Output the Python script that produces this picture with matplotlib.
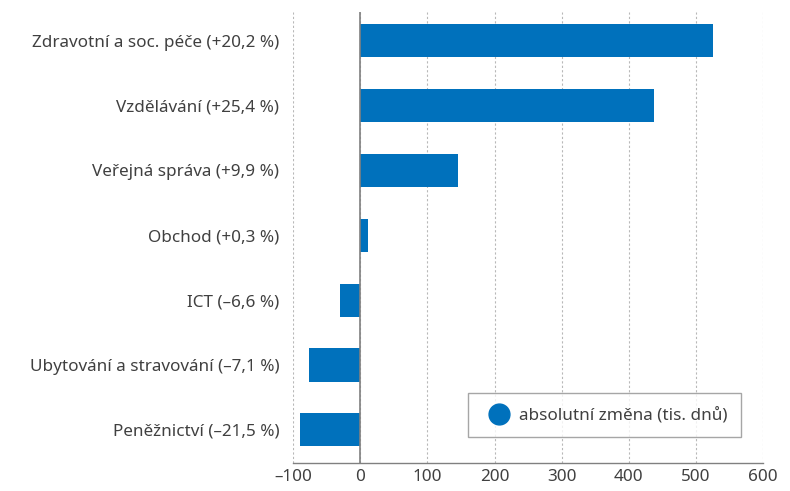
import matplotlib.pyplot as plt
from matplotlib.ticker import FuncFormatter
from matplotlib.lines import Line2D

# odvětví shora dolů
categories = [
    "Zdravotní a soc. péče (+20,2 %)",
    "Vzdělávání (+25,4 %)",
    "Veřejná správa (+9,9 %)",
    "Obchod (+0,3 %)",
    "ICT (\u20136,6 %)",
    "Ubytování a stravování (\u20137,1 %)",
    "Peněžnictví (\u201321,5 %)",
]
values = [526, 437, 146, 12, -30, -77, -89]
xticks = [-100, 0, 100, 200, 300, 400, 500, 600]

blue = "#0071BC"
text_col = "#404040"

plt.rcParams['font.family'] = ['Noto Sans', 'DejaVu Sans']

fig = plt.figure(figsize=(7.9, 4.91), dpi=100)
ax = fig.add_axes([0.371, 0.057, 0.595, 0.9186])

n = len(categories)
ypos = list(range(n - 1, -1, -1))
ax.barh(ypos, values, height=0.51, color=blue, zorder=3)

ax.set_xlim(-100, 600)
ax.set_ylim(-0.51, n - 1 + 0.44)
ax.set_xticks(xticks)
ax.xaxis.set_major_formatter(FuncFormatter(
    lambda v, p: f"{int(v)}".replace("-", "\u2013")))
ax.set_yticks(ypos)
ax.set_yticklabels(categories)

ax.grid(axis='x', color='#b8b8b8', linestyle=(0, (2, 2)), linewidth=0.8, zorder=0)
ax.axvline(0, color='#808080', linewidth=1.2, zorder=4)

for s in ['top', 'right', 'left']:
    ax.spines[s].set_visible(False)
ax.spines['bottom'].set_color('#808080')
ax.spines['bottom'].set_linewidth(1.0)

ax.tick_params(axis='both', length=0, labelsize=12.3, colors=text_col)
ax.tick_params(axis='x', pad=4)
ax.tick_params(axis='y', pad=10)

handle = Line2D([], [], marker='o', linestyle='none', markersize=15,
                markerfacecolor=blue, markeredgecolor=blue)
leg = ax.legend([handle], ["absolutní změna (tis. dnů)"], loc='lower right',
                bbox_to_anchor=(0.972, 0.038), frameon=True, fancybox=False,
                fontsize=12.3, handletextpad=0.2, borderpad=0.8, labelcolor=text_col)
leg.get_frame().set_edgecolor('#909090')
leg.get_frame().set_linewidth(1.0)

fig.savefig("out.png", dpi=100)
